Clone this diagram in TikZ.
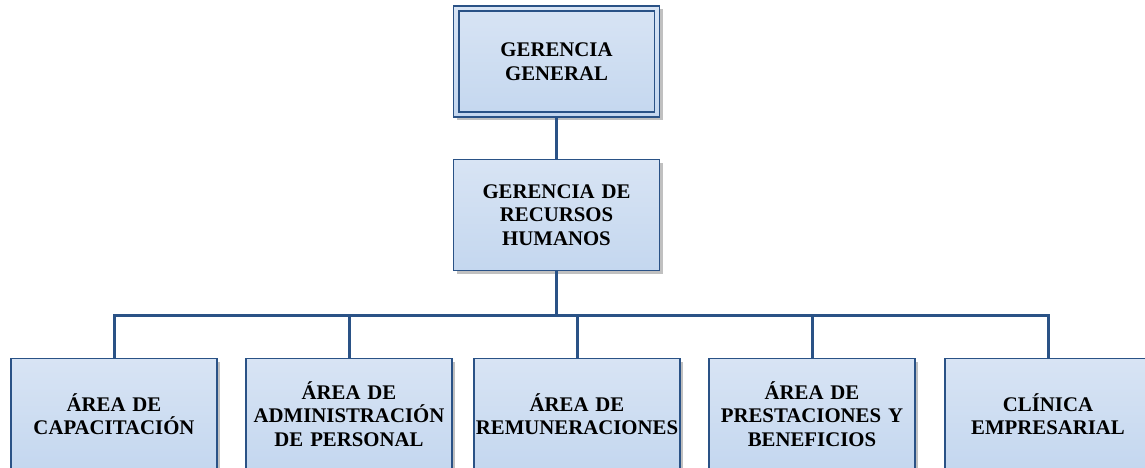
\documentclass[tikz,border=0pt]{standalone}
\usepackage{fontspec}
\setmainfont{Liberation Serif}
\usetikzlibrary{shadows}
\definecolor{bordblue}{HTML}{2A5286}
\definecolor{topfill}{HTML}{D8E4F4}
\definecolor{botfill}{HTML}{C4D7EF}
\tikzset{
  orgbox/.style={rectangle, draw=bordblue, line width=1.8pt,
    top color=topfill, bottom color=botfill,
    minimum width=206pt, minimum height=111pt, inner sep=0pt,
    text width=204pt, align=center,
    font=\bfseries\fontsize{20.8}{23.5}\selectfont,
    drop shadow={shadow xshift=3pt, shadow yshift=-3pt, fill=black!45, opacity=0.55}},
  conn/.style={draw=bordblue, line width=3pt}
}
\begin{document}
\begin{tikzpicture}[x=1pt,y=-1pt]
\useasboundingbox (0,0) rectangle (1145,467);
\clip (0,0) rectangle (1145,467);
\node[orgbox] (gg) at (556.5,61.5) {GERENCIA\\GENERAL};
\draw[bordblue, line width=1.8pt] ([shift={(6pt,-6pt)}]gg.north west) rectangle ([shift={(-6pt,6pt)}]gg.south east);
\node[orgbox] (rh) at (556.5,215) {GERENCIA DE\\RECURSOS\\HUMANOS};
\coordinate (bus) at (556.5,315);
\node[orgbox] (a1) at (114,414) {ÁREA DE\\CAPACITACIÓN};
\node[orgbox] (a2) at (349,414) {ÁREA DE\\ADMINISTRACIÓN\\DE PERSONAL};
\node[orgbox] (a3) at (577,414) {ÁREA DE\\REMUNERACIONES};
\node[orgbox] (a4) at (812,414) {ÁREA DE\\PRESTACIONES Y\\BENEFICIOS};
\node[orgbox] (a5) at (1048,414) {CLÍNICA\\EMPRESARIAL};
\draw[conn] (gg.south) -- (rh.north);
\draw[conn] (rh.south) -- (bus);
\draw[conn] (a1.north) -- (a1.north |- bus) -- (a5.north |- bus) -- (a5.north);
\draw[conn] (a2.north) -- (a2.north |- bus);
\draw[conn] (a3.north) -- (a3.north |- bus);
\draw[conn] (a4.north) -- (a4.north |- bus);
\end{tikzpicture}
\end{document}
